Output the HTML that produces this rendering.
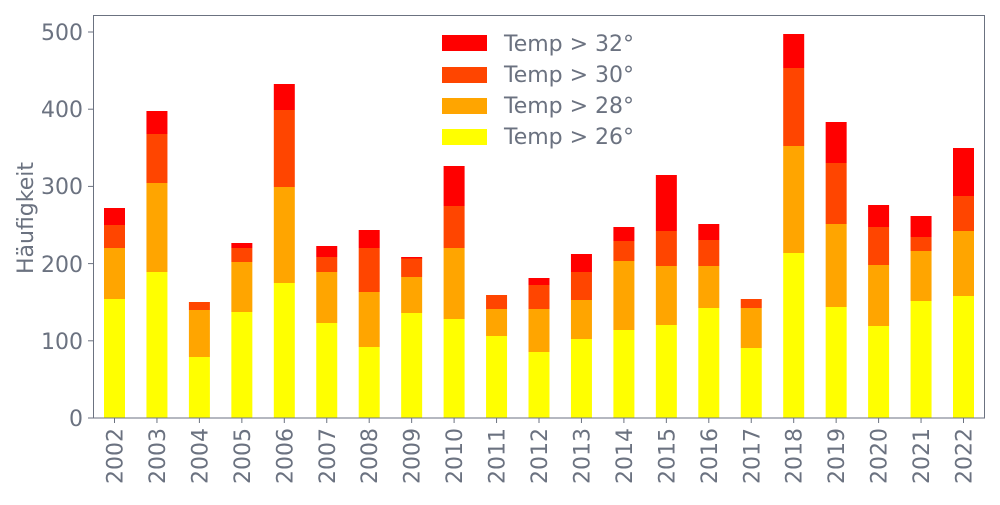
<!DOCTYPE html>
<html><head><meta charset="utf-8"><style>
body{margin:0;background:#fff}
text{font-family:"DejaVu Sans","Liberation Sans",sans-serif;fill:#6b7280}
</style></head><body>
<svg width="1000" height="500" xmlns="http://www.w3.org/2000/svg">
<g stroke="none">
<rect x="104" y="299" width="21" height="119" fill="#ffff00"/><rect x="104" y="248" width="21" height="51" fill="#ffa500"/><rect x="104" y="225" width="21" height="23" fill="#ff4500"/><rect x="104" y="208" width="21" height="17" fill="#ff0000"/>
<rect x="146.45" y="272" width="21" height="146" fill="#ffff00"/><rect x="146.45" y="183" width="21" height="89" fill="#ffa500"/><rect x="146.45" y="134" width="21" height="49" fill="#ff4500"/><rect x="146.45" y="111" width="21" height="23" fill="#ff0000"/>
<rect x="188.9" y="357" width="21" height="61" fill="#ffff00"/><rect x="188.9" y="310" width="21" height="47" fill="#ffa500"/><rect x="188.9" y="302" width="21" height="8" fill="#ff4500"/>
<rect x="231.35" y="312" width="21" height="106" fill="#ffff00"/><rect x="231.35" y="262" width="21" height="50" fill="#ffa500"/><rect x="231.35" y="248" width="21" height="14" fill="#ff4500"/><rect x="231.35" y="243" width="21" height="5" fill="#ff0000"/>
<rect x="273.8" y="283" width="21" height="135" fill="#ffff00"/><rect x="273.8" y="187" width="21" height="96" fill="#ffa500"/><rect x="273.8" y="110" width="21" height="77" fill="#ff4500"/><rect x="273.8" y="84" width="21" height="26" fill="#ff0000"/>
<rect x="316.25" y="323" width="21" height="95" fill="#ffff00"/><rect x="316.25" y="272" width="21" height="51" fill="#ffa500"/><rect x="316.25" y="257" width="21" height="15" fill="#ff4500"/><rect x="316.25" y="246" width="21" height="11" fill="#ff0000"/>
<rect x="358.7" y="347" width="21" height="71" fill="#ffff00"/><rect x="358.7" y="292" width="21" height="55" fill="#ffa500"/><rect x="358.7" y="248" width="21" height="44" fill="#ff4500"/><rect x="358.7" y="230" width="21" height="18" fill="#ff0000"/>
<rect x="401.15" y="313" width="21" height="105" fill="#ffff00"/><rect x="401.15" y="277" width="21" height="36" fill="#ffa500"/><rect x="401.15" y="258" width="21" height="19" fill="#ff4500"/><rect x="401.15" y="257" width="21" height="1.5" fill="#ff0000"/>
<rect x="443.6" y="319" width="21" height="99" fill="#ffff00"/><rect x="443.6" y="248" width="21" height="71" fill="#ffa500"/><rect x="443.6" y="206" width="21" height="42" fill="#ff4500"/><rect x="443.6" y="166" width="21" height="40" fill="#ff0000"/>
<rect x="486.05" y="336" width="21" height="82" fill="#ffff00"/><rect x="486.05" y="309" width="21" height="27" fill="#ffa500"/><rect x="486.05" y="295" width="21" height="14" fill="#ff4500"/>
<rect x="528.5" y="352" width="21" height="66" fill="#ffff00"/><rect x="528.5" y="309" width="21" height="43" fill="#ffa500"/><rect x="528.5" y="285" width="21" height="24" fill="#ff4500"/><rect x="528.5" y="278" width="21" height="7" fill="#ff0000"/>
<rect x="570.95" y="339" width="21" height="79" fill="#ffff00"/><rect x="570.95" y="300" width="21" height="39" fill="#ffa500"/><rect x="570.95" y="272" width="21" height="28" fill="#ff4500"/><rect x="570.95" y="254" width="21" height="18" fill="#ff0000"/>
<rect x="613.4" y="330" width="21" height="88" fill="#ffff00"/><rect x="613.4" y="261" width="21" height="69" fill="#ffa500"/><rect x="613.4" y="241" width="21" height="20" fill="#ff4500"/><rect x="613.4" y="227" width="21" height="14" fill="#ff0000"/>
<rect x="655.85" y="325" width="21" height="93" fill="#ffff00"/><rect x="655.85" y="266" width="21" height="59" fill="#ffa500"/><rect x="655.85" y="231" width="21" height="35" fill="#ff4500"/><rect x="655.85" y="175" width="21" height="56" fill="#ff0000"/>
<rect x="698.3" y="308" width="21" height="110" fill="#ffff00"/><rect x="698.3" y="266" width="21" height="42" fill="#ffa500"/><rect x="698.3" y="240" width="21" height="26" fill="#ff4500"/><rect x="698.3" y="224" width="21" height="16" fill="#ff0000"/>
<rect x="740.75" y="348" width="21" height="70" fill="#ffff00"/><rect x="740.75" y="308" width="21" height="40" fill="#ffa500"/><rect x="740.75" y="299" width="21" height="9" fill="#ff4500"/>
<rect x="783.2" y="253" width="21" height="165" fill="#ffff00"/><rect x="783.2" y="146" width="21" height="107" fill="#ffa500"/><rect x="783.2" y="68" width="21" height="78" fill="#ff4500"/><rect x="783.2" y="34" width="21" height="34" fill="#ff0000"/>
<rect x="825.65" y="307" width="21" height="111" fill="#ffff00"/><rect x="825.65" y="224" width="21" height="83" fill="#ffa500"/><rect x="825.65" y="163" width="21" height="61" fill="#ff4500"/><rect x="825.65" y="122" width="21" height="41" fill="#ff0000"/>
<rect x="868.1" y="326" width="21" height="92" fill="#ffff00"/><rect x="868.1" y="265" width="21" height="61" fill="#ffa500"/><rect x="868.1" y="227" width="21" height="38" fill="#ff4500"/><rect x="868.1" y="205" width="21" height="22" fill="#ff0000"/>
<rect x="910.55" y="301" width="21" height="117" fill="#ffff00"/><rect x="910.55" y="251" width="21" height="50" fill="#ffa500"/><rect x="910.55" y="237" width="21" height="14" fill="#ff4500"/><rect x="910.55" y="216" width="21" height="21" fill="#ff0000"/>
<rect x="953" y="296" width="21" height="122" fill="#ffff00"/><rect x="953" y="231" width="21" height="65" fill="#ffa500"/><rect x="953" y="196" width="21" height="35" fill="#ff4500"/><rect x="953" y="148" width="21" height="48" fill="#ff0000"/>
</g>
<rect x="93.5" y="15.5" width="891" height="402.5" fill="none" stroke="#6b7280" stroke-width="1"/>
<g stroke="#6b7280" stroke-width="1">
<line x1="88" y1="418" x2="93" y2="418"/><line x1="88" y1="340.8" x2="93" y2="340.8"/><line x1="88" y1="263.6" x2="93" y2="263.6"/><line x1="88" y1="186.4" x2="93" y2="186.4"/><line x1="88" y1="109.2" x2="93" y2="109.2"/><line x1="88" y1="32" x2="93" y2="32"/>
</g>
<g font-size="22" text-anchor="end">
<text x="83" y="426">0</text><text x="83" y="349">100</text><text x="83" y="272">200</text><text x="83" y="194">300</text><text x="83" y="117">400</text><text x="83" y="40">500</text>
</g>
<text transform="translate(33,218) rotate(-90)" font-size="22" text-anchor="middle">Häufigkeit</text>
<g font-size="22" text-anchor="end">
<text transform="translate(122.5,428) rotate(-90)">2002</text>
<text transform="translate(164.95,428) rotate(-90)">2003</text>
<text transform="translate(207.4,428) rotate(-90)">2004</text>
<text transform="translate(249.85,428) rotate(-90)">2005</text>
<text transform="translate(292.3,428) rotate(-90)">2006</text>
<text transform="translate(334.75,428) rotate(-90)">2007</text>
<text transform="translate(377.2,428) rotate(-90)">2008</text>
<text transform="translate(419.65,428) rotate(-90)">2009</text>
<text transform="translate(462.1,428) rotate(-90)">2010</text>
<text transform="translate(504.55,428) rotate(-90)">2011</text>
<text transform="translate(547,428) rotate(-90)">2012</text>
<text transform="translate(589.45,428) rotate(-90)">2013</text>
<text transform="translate(631.9,428) rotate(-90)">2014</text>
<text transform="translate(674.35,428) rotate(-90)">2015</text>
<text transform="translate(716.8,428) rotate(-90)">2016</text>
<text transform="translate(759.25,428) rotate(-90)">2017</text>
<text transform="translate(801.7,428) rotate(-90)">2018</text>
<text transform="translate(844.15,428) rotate(-90)">2019</text>
<text transform="translate(886.6,428) rotate(-90)">2020</text>
<text transform="translate(929.05,428) rotate(-90)">2021</text>
<text transform="translate(971.5,428) rotate(-90)">2022</text>
</g>
<g stroke="#6b7280" stroke-width="1">
<line x1="114.5" y1="418" x2="114.5" y2="423"/><line x1="156.95" y1="418" x2="156.95" y2="423"/><line x1="199.4" y1="418" x2="199.4" y2="423"/><line x1="241.85" y1="418" x2="241.85" y2="423"/><line x1="284.3" y1="418" x2="284.3" y2="423"/><line x1="326.75" y1="418" x2="326.75" y2="423"/><line x1="369.2" y1="418" x2="369.2" y2="423"/><line x1="411.65" y1="418" x2="411.65" y2="423"/><line x1="454.1" y1="418" x2="454.1" y2="423"/><line x1="496.55" y1="418" x2="496.55" y2="423"/><line x1="539" y1="418" x2="539" y2="423"/><line x1="581.45" y1="418" x2="581.45" y2="423"/><line x1="623.9" y1="418" x2="623.9" y2="423"/><line x1="666.35" y1="418" x2="666.35" y2="423"/><line x1="708.8" y1="418" x2="708.8" y2="423"/><line x1="751.25" y1="418" x2="751.25" y2="423"/><line x1="793.7" y1="418" x2="793.7" y2="423"/><line x1="836.15" y1="418" x2="836.15" y2="423"/><line x1="878.6" y1="418" x2="878.6" y2="423"/><line x1="921.05" y1="418" x2="921.05" y2="423"/><line x1="963.5" y1="418" x2="963.5" y2="423"/>
</g>
<rect x="442" y="35" width="45" height="16" fill="#ff0000"/>
<rect x="442" y="67" width="45" height="16" fill="#ff4500"/>
<rect x="442" y="98" width="45" height="16" fill="#ffa500"/>
<rect x="442" y="129" width="45" height="16" fill="#ffff00"/>
<g font-size="22">
<text x="504" y="51">Temp &gt; 32°</text>
<text x="504" y="82">Temp &gt; 30°</text>
<text x="504" y="113">Temp &gt; 28°</text>
<text x="504" y="144">Temp &gt; 26°</text>
</g>
</svg>
</body></html>
